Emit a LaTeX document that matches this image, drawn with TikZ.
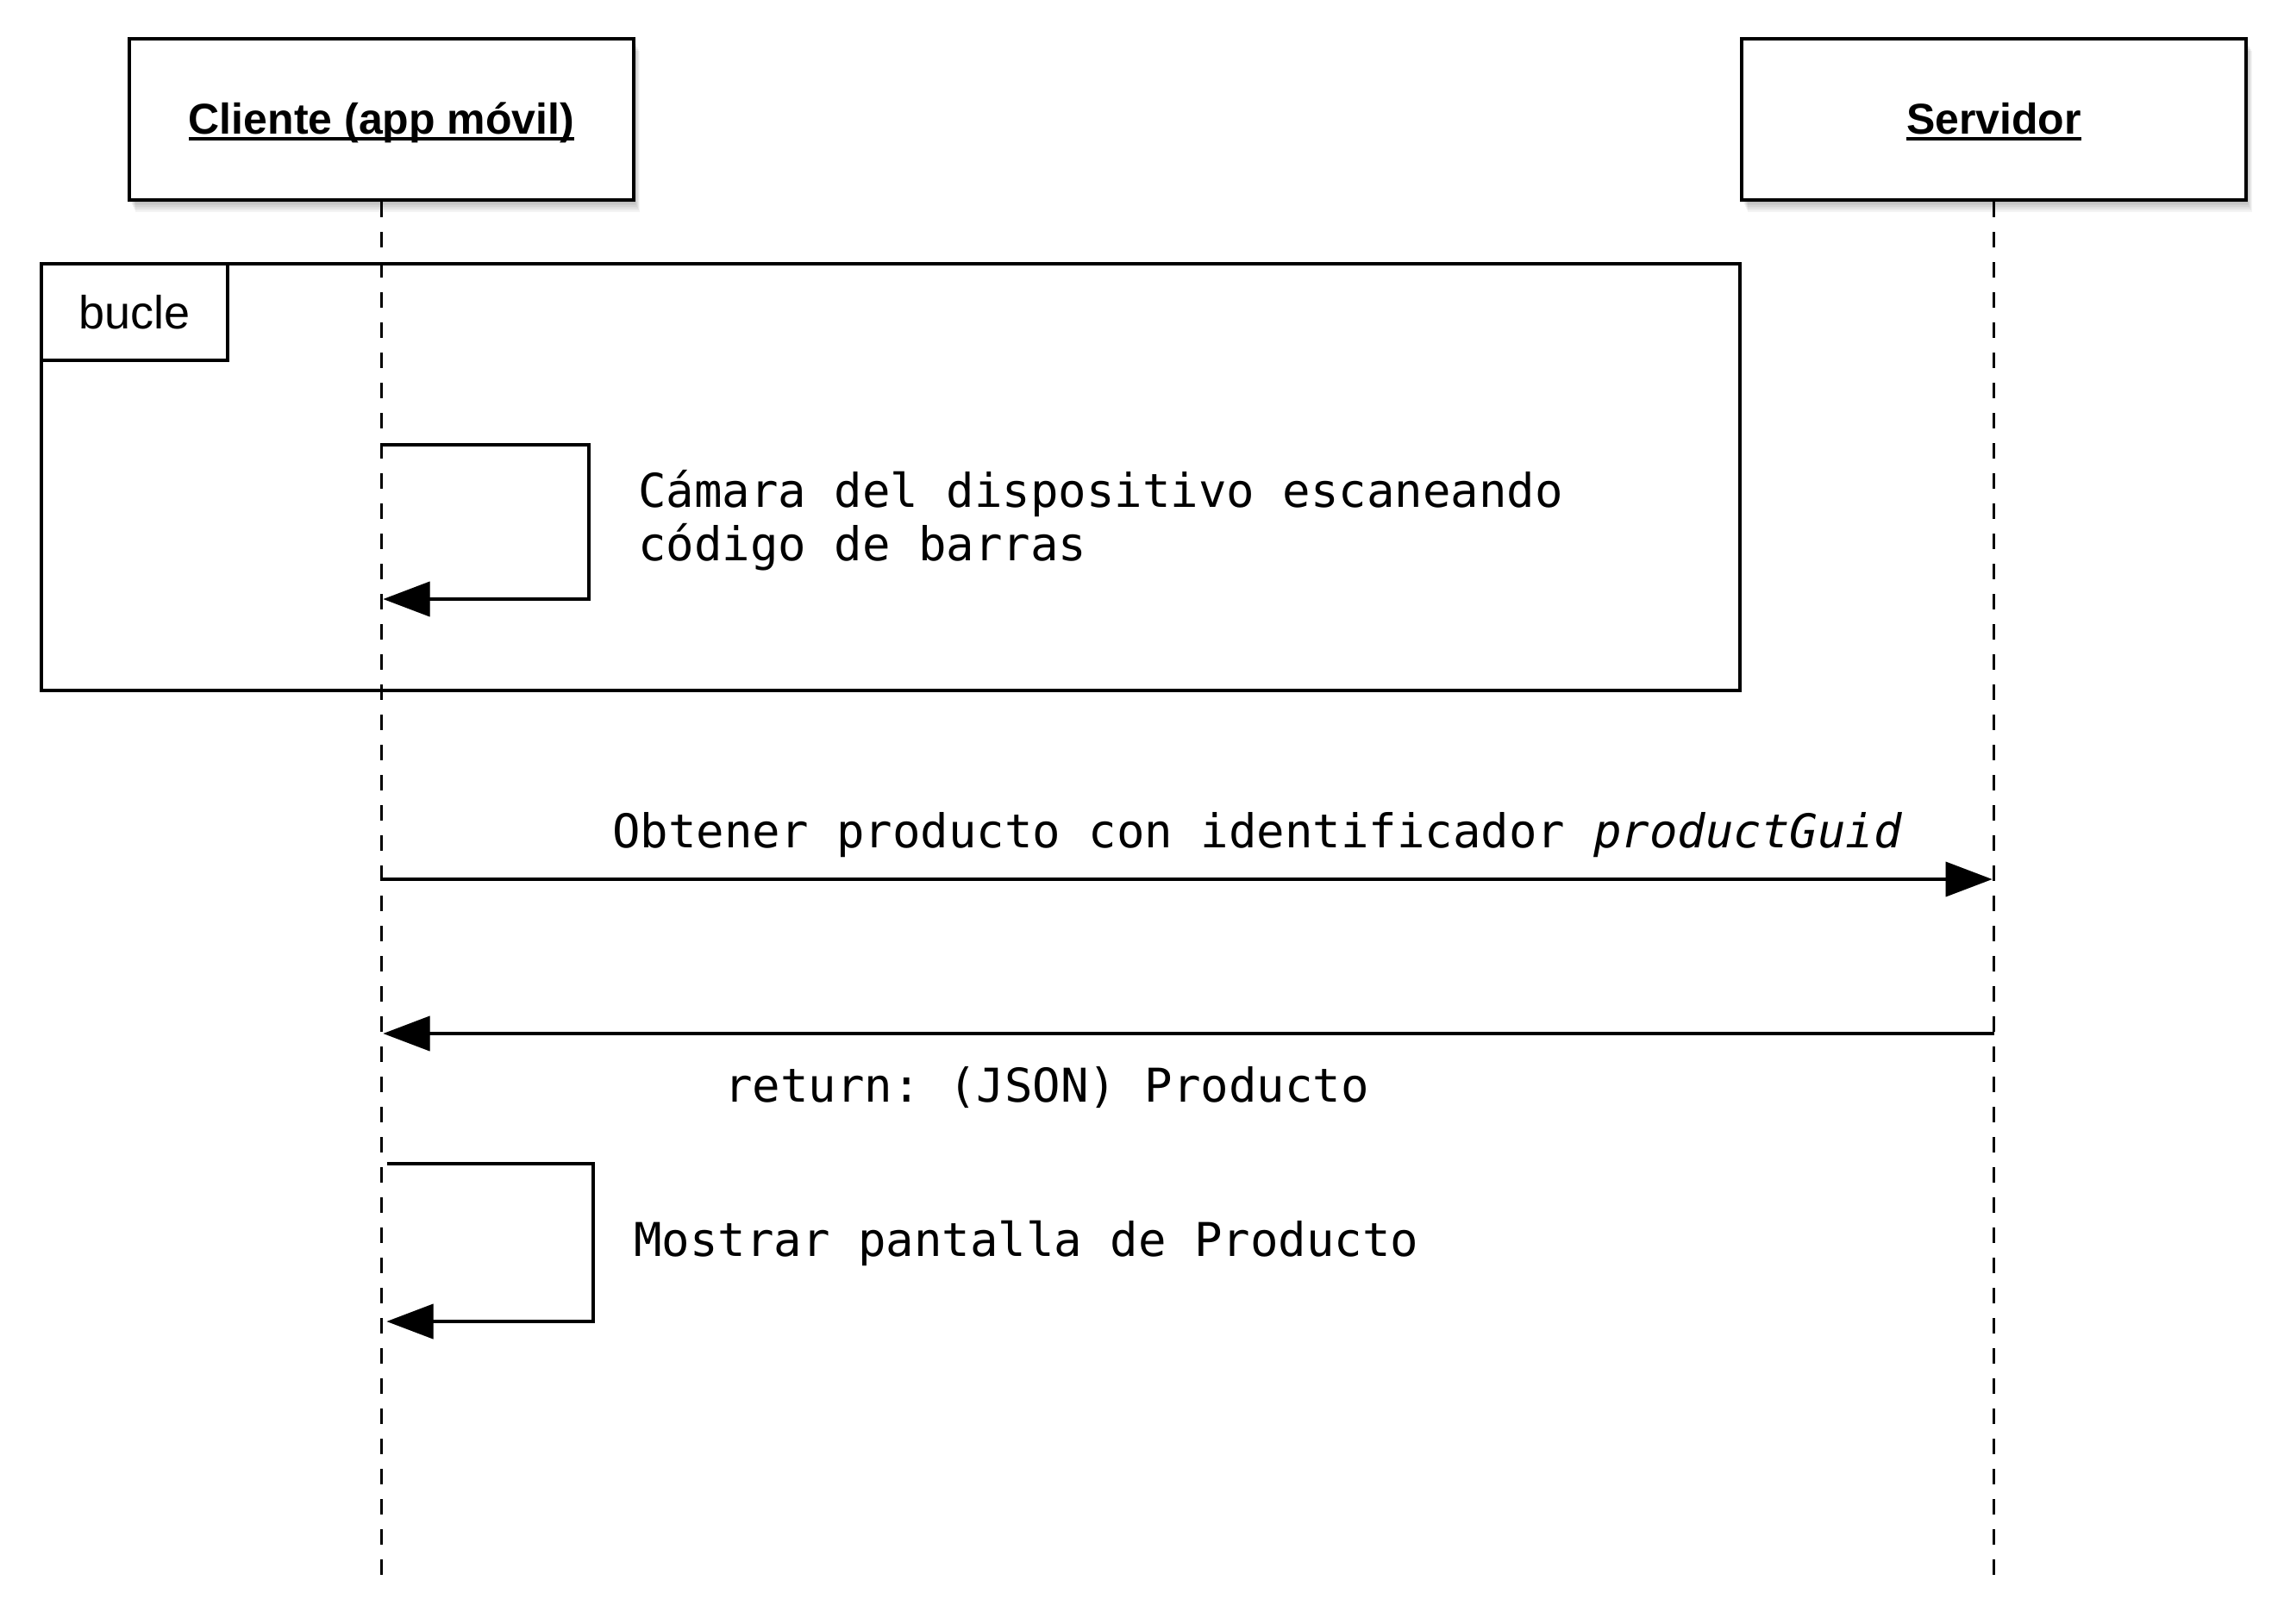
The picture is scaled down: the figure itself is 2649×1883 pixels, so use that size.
\documentclass[tikz,border=0pt]{standalone}
\usepackage{fontspec}
\setmainfont{Liberation Sans}
\newfontfamily\monof{DejaVu Sans Mono}
\usetikzlibrary{arrows.meta,calc}
\newcommand\ulnk[1]{\setbox0\hbox{#1}\rlap{\vrule height -4pt depth 7.5pt width \wd0}\box0}
\frenchspacing
\tikzset{
  participant/.style={draw, line width=4pt, fill=white, minimum width=585pt, minimum height=187pt, inner sep=0pt,
    text height=37pt, text depth=4pt, font=\fontsize{50}{60}\selectfont\bfseries},
  lifeline/.style={line width=3.2pt, dash pattern=on 18pt off 17pt},
  msg/.style={line width=3.5pt, -{Triangle[length=54pt,width=40pt]}},
  msgshadow/.style={line width=4pt, draw=black, opacity=0.07, -{Triangle[length=54pt,width=40pt]}},
  msgtext/.style={anchor=base west, inner sep=0pt, font=\monof\fontsize{54}{62}\selectfont},
  framebox/.style={draw, line width=3.5pt, inner sep=0pt, anchor=north west},
}
\begin{document}
\begin{tikzpicture}[x=1pt,y=-1pt]
\useasboundingbox (0,0) rectangle (2649,1883);
\fill[white] (0,0) rectangle (2649,1883);

% participant positions, shadows drawn beneath
\path (442.5,138.5) node[minimum width=585pt, minimum height=187pt, inner sep=0pt] (clientpos) {};
\path (2312.5,138.5) node[minimum width=585pt, minimum height=187pt, inner sep=0pt] (serverpos) {};
\foreach \p in {clientpos,serverpos}{
  \foreach \s in {2,4,...,14}{
    \fill[black, opacity=0.045] ($(\p.north west)+(0.5*\s,\s)$) rectangle ($(\p.south east)+(0.5*\s,\s)$);
  }
}
\node[participant] (client) at (clientpos) {\ulnk{Cliente (app móvil)}};
\node[participant] (server) at (serverpos) {\ulnk{Servidor}};

% lifelines
\coordinate (cend) at (client.south |- 0,1840);
\coordinate (send) at (server.south |- 0,1840);
\draw[lifeline] (client.south) -- (cend);
\draw[lifeline] (server.south) -- (send);

% loop frame
\node[framebox, minimum width=1970pt, minimum height=495pt] (loop) at (46,304) {};
\node[framebox, minimum width=216pt, minimum height=112pt, font=\fontsize{54}{60}\selectfont] (loopname) at (loop.north west) {bucle};

% message coordinates
\coordinate (s1a) at ($(client.south |- 0,516)+(1,0)$);
\coordinate (s1r) at (683,516);
\coordinate (s1b) at ($(client.south |- 0,695)+(2,0)$);
\coordinate (m1a) at (client.south |- 0,1020);
\coordinate (m1b) at ($(server.south |- 0,1020)+(-2,0)$);
\coordinate (r1a) at (server.south |- 0,1199);
\coordinate (r1b) at ($(client.south |- 0,1199)+(2,0)$);
\coordinate (s2a) at ($(client.south |- 0,1350)+(6,0)$);
\coordinate (s2r) at (688,1350);
\coordinate (s2b) at ($(client.south |- 0,1533)+(6,0)$);

% shadows of messages
\foreach \s in {3,6,9,12}{
  \begin{scope}[shift={(0.3*\s,\s)}]
    \draw[msgshadow] (s1a) -- (s1r) |- (s1b);
    \draw[msgshadow] (m1a) -- (m1b);
    \draw[msgshadow] (r1a) -- (r1b);
    \draw[msgshadow] (s2a) -- (s2r) |- (s2b);
  \end{scope}
}

% messages
\draw[msg] (s1a) -- (s1r) |- (s1b);
\draw[msg] (m1a) -- (m1b);
\draw[msg] (r1a) -- (r1b);
\draw[msg] (s2a) -- (s2r) |- (s2b);

% labels
\node[msgtext] (t1) at (740,588) {Cámara del dispositivo escaneando};
\node[msgtext] (t1b) at (740,650) {código de barras};
\node[msgtext] (t2) at (710,983) {Obtener producto con identificador \textit{productGuid}};
\node[msgtext] (t3) at (840,1278) {return: (JSON) Producto};
\node[msgtext] (t4) at (735,1457) {Mostrar pantalla de Producto};
\end{tikzpicture}
\end{document}
